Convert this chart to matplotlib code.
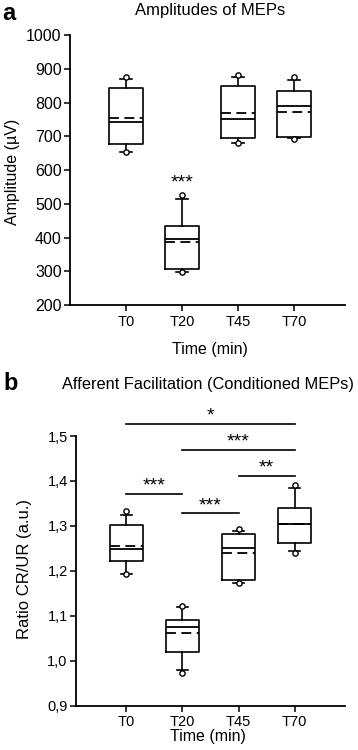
import matplotlib
matplotlib.use("Agg")
import matplotlib.pyplot as plt

plt.rcParams['font.family'] = ['Liberation Sans', 'DejaVu Sans']

categories = ["T0", "T20", "T45", "T70"]

# Panel a: Amplitudes of MEPs (µV)
a_q1 = [676, 307, 694, 698]
a_median = [742, 397, 751, 790]
a_mean = [755, 386, 770, 772]
a_q3 = [844, 433, 849, 835]
a_whislo = [654, 297, 681, 695]
a_whishi = [870, 515, 877, 867]
a_fliers = [[654, 875], [297, 526], [681, 882], [693, 875]]

# Panel b: Afferent facilitation ratio CR/UR
b_q1 = [1.221, 1.020, 1.180, 1.261]
b_median = [1.249, 1.074, 1.251, 1.304]
b_mean = [1.256, 1.062, 1.239, 1.304]
b_q3 = [1.301, 1.091, 1.281, 1.340]
b_whislo = [1.192, 0.979, 1.174, 1.244]
b_whishi = [1.324, 1.119, 1.288, 1.385]
b_fliers = [[1.192, 1.333], [0.972, 1.122], [1.172, 1.293], [1.240, 1.392]]

# significance comparisons in b: (from, to, level, label)
b_sig = [(0, 3, 1.527, "*"), (1, 3, 1.469, "***"), (2, 3, 1.412, "**"),
         (0, 1, 1.372, "***"), (1, 2, 1.328, "***")]

a_yticks = [200, 300, 400, 500, 600, 700, 800, 900, 1000]
b_yticks = [0.9, 1.0, 1.1, 1.2, 1.3, 1.4, 1.5]

W, H = 358, 750
fig = plt.figure(figsize=(W / 100, H / 100), dpi=100)


def stats(q1, med, mean, q3, lo, hi, fl):
    out = []
    for i in range(len(q1)):
        out.append(dict(q1=q1[i], med=med[i], mean=mean[i], q3=q3[i],
                        whislo=lo[i], whishi=hi[i], fliers=fl[i]))
    return out


lw = 1.2
common = dict(positions=[1, 2, 3, 4], widths=0.6, capwidths=0.21,
              showmeans=True, meanline=True, patch_artist=False,
              boxprops=dict(color='black', linewidth=lw),
              whiskerprops=dict(color='black', linewidth=lw),
              capprops=dict(color='black', linewidth=lw),
              medianprops=dict(color='black', linewidth=1.3),
              meanprops=dict(color='black', linewidth=1.3, linestyle=(0, (5.5, 3))),
              flierprops=dict(marker='o', markersize=3.8, markerfacecolor='white',
                              markeredgecolor='black', markeredgewidth=1.0))


def style(ax):
    for s in ['top', 'right']:
        ax.spines[s].set_visible(False)
    for s in ['left', 'bottom']:
        ax.spines[s].set_linewidth(1.3)
    ax.tick_params(axis='y', direction='out', length=4, width=1.1, labelsize=11.5, pad=2)
    ax.tick_params(axis='x', direction='out', length=4, width=1.1, labelsize=10.5, pad=3)


# Panel a
axa = fig.add_axes([70 / W, 1 - 305 / H, 275 / W, 270 / H])
axa.bxp(stats(a_q1, a_median, a_mean, a_q3, a_whislo, a_whishi, a_fliers), **common)
axa.set_xlim(0.0, 4.91)
axa.set_ylim(200, 1000)
axa.set_yticks(a_yticks)
axa.set_xticks([1, 2, 3, 4])
axa.set_xticklabels(categories)
style(axa)
axa.text(2, 562, "***", ha='center', va='center', fontsize=14)

# Panel b
axb = fig.add_axes([76 / W, 1 - 705.7 / H, 269 / W, 269.7 / H])
axb.bxp(stats(b_q1, b_median, b_mean, b_q3, b_whislo, b_whishi, b_fliers), **common)
axb.set_xlim(0.1, 4.9)
axb.set_ylim(0.9, 1.5)
axb.set_yticks(b_yticks)
axb.set_yticklabels([f"{v:.1f}".replace('.', ',') for v in b_yticks])
axb.set_xticks([1, 2, 3, 4])
axb.set_xticklabels(categories)
style(axb)
axb.tick_params(axis='y', labelsize=10.5)
for i0, i1, lev, lab in b_sig:
    axb.plot([i0 + 1, i1 + 1], [lev, lev], color='black', linewidth=1.2, clip_on=False)
    axb.text((i0 + i1) / 2 + 1, lev + 0.017, lab, ha='center', va='center',
             fontsize=14, clip_on=False)

# Labels
fig.text(2 / W, 1 - 13 / H, "a", fontsize=17, fontweight='bold', ha='left', va='center')
fig.text(210 / W, 1 - 10 / H, "Amplitudes of MEPs", fontsize=12, ha='center', va='center')
fig.text(13 / W, 1 - 172 / H, "Amplitude (µV)", fontsize=11.5, rotation=90,
         ha='center', va='center')
fig.text(210 / W, 1 - 349 / H, "Time (min)", fontsize=11.5, ha='center', va='center')

fig.text(3 / W, 1 - 383 / H, "b", fontsize=17, fontweight='bold', ha='left', va='center')
fig.text(208 / W, 1 - 384 / H, "Afferent Facilitation (Conditioned MEPs)", fontsize=11.8,
         ha='center', va='center')
fig.text(25 / W, 1 - 569 / H, "Ratio CR/UR (a.u.)", fontsize=12, rotation=90,
         ha='center', va='center')
fig.text(208 / W, 1 - 737 / H, "Time (min)", fontsize=11.5, ha='center', va='center')

fig.savefig("out.png", dpi=100)
